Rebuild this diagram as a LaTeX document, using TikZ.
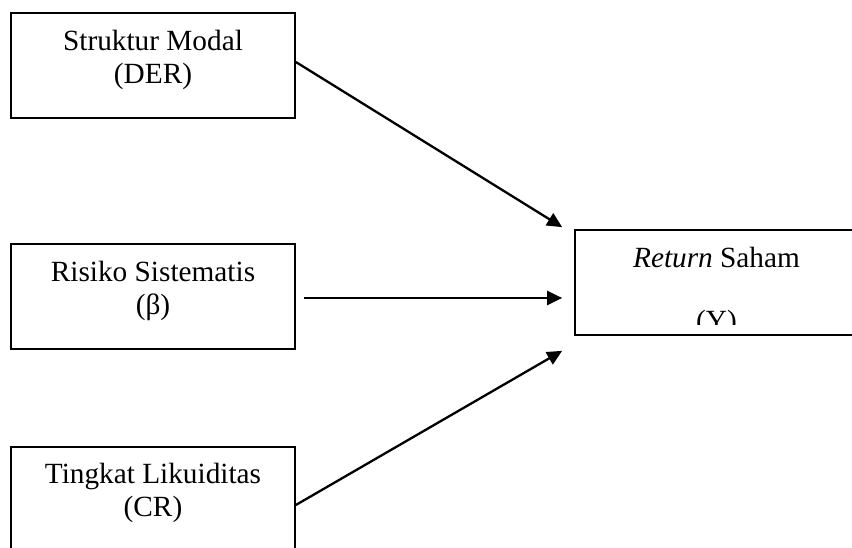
\documentclass[tikz,border=0pt]{standalone}
\usepackage{fontspec}
\setmainfont{Liberation Serif}
\usetikzlibrary{arrows.meta}
\begin{document}
\begin{tikzpicture}[x=1pt,y=1pt,
  box/.style={draw=black,line width=1.7pt,minimum width=284pt,minimum height=105pt,inner sep=0pt},
  txt/.style={align=center,inner sep=0pt,font=\fontsize{29.3}{33.5}\selectfont},
  arr/.style={line width=2.3pt,-{Triangle[length=15pt,width=14pt]}}]
\useasboundingbox (0,0) rectangle (852,547);
\clip (0,0) rectangle (852,547);
\node[box] (b1) at (153,481.5) {};
\node[box] (b2) at (153,250.5) {};
\node[box] (b3) at (153,47.5) {};
\node[box,minimum width=283pt] (b4) at (716.5,264.5) {};
\node[txt] (t1) at (153,487) {Struktur Modal\\(DER)};
\node[txt] (t2) at (153,256) {Risiko Sistematis\\(β)};
\node[txt] (t3) at (153,54) {Tingkat Likuiditas\\(CR)};
\node[txt,anchor=base] (t4) at (716.5,279) {\textit{Return} Saham};
\begin{scope}
\clip (560,222) rectangle (852,300);
\node[txt,anchor=base] (t5) at (716.5,216) {(Y)};
\end{scope}
\draw[arr] ([yshift=3.5pt]b1.east) -- ([xshift=-12pt,yshift=2pt]b4.north west);
\draw[arr] ([xshift=8pt,yshift=-1.5pt]b2.east) -- ([xshift=-12pt,yshift=-15.5pt]b4.west);
\draw[arr] ([yshift=-5.5pt]b3.east) -- ([xshift=-12pt,yshift=-15pt]b4.south west);
\end{tikzpicture}
\end{document}
